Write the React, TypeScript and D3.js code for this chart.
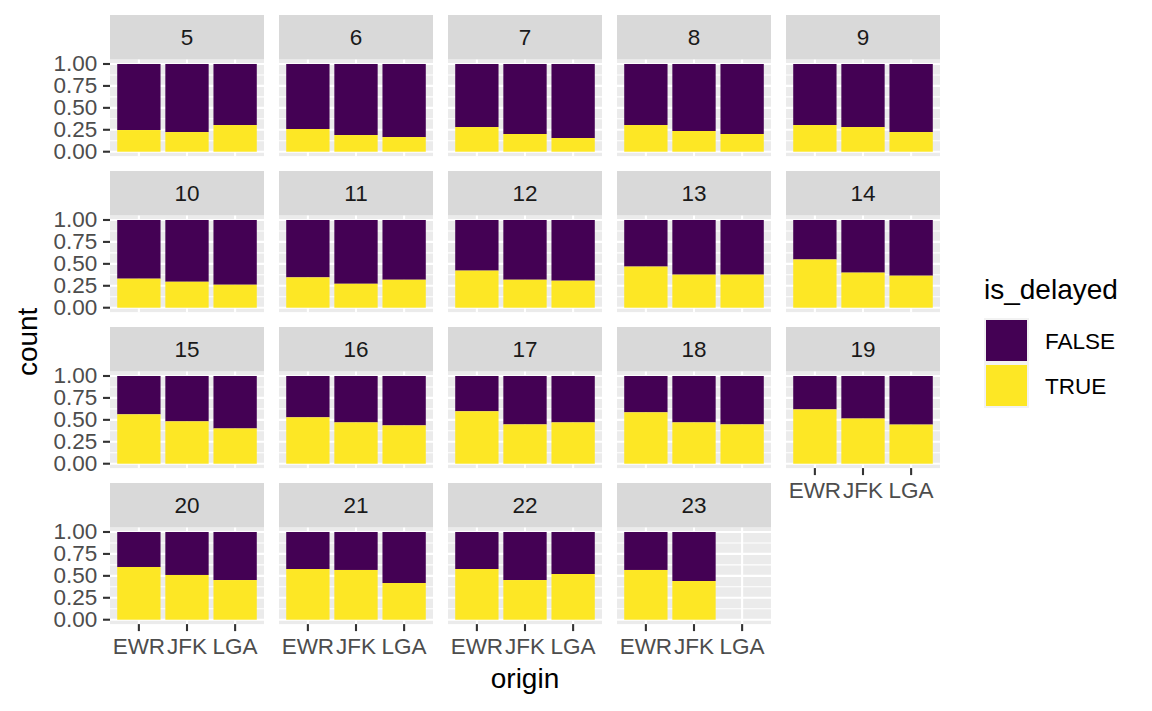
import * as d3 from 'd3';

// hour of departure, one panel each
const hours = [5, 6, 7, 8, 9, 10, 11, 12, 13, 14, 15, 16, 17, 18, 19, 20, 21, 22, 23];
const origins = ['EWR', 'JFK', 'LGA'];

// share of delayed flights (TRUE) per hour
const delayedEWR = [0.247, 0.259, 0.281, 0.304, 0.304, 0.331, 0.346, 0.423, 0.469, 0.55, 0.563, 0.529, 0.598, 0.586, 0.619, 0.601, 0.578, 0.578, 0.567];
const delayedJFK = [0.224, 0.19, 0.202, 0.236, 0.281, 0.296, 0.273, 0.319, 0.377, 0.4, 0.483, 0.471, 0.448, 0.471, 0.515, 0.51, 0.567, 0.452, 0.441];
const delayedLGA = [0.304, 0.167, 0.156, 0.202, 0.224, 0.262, 0.319, 0.308, 0.377, 0.365, 0.402, 0.437, 0.471, 0.448, 0.446, 0.452, 0.418, 0.521, null];

const yTicks = [0, 0.25, 0.5, 0.75, 1];
const yMinor = [0.125, 0.375, 0.625, 0.875];
const delayLevels = ['FALSE', 'TRUE'];
const delayColors = ['#440154', '#FDE725'];

const W = 1152;
const H = 711;
const font = '"Liberation Sans", Arial, Helvetica, sans-serif';
const nCol = 5;
const left = 110;
const top = 15;
const colStep = 169;
const rowStep = 156;
const panelW = 154;
const stripH = 44.6;
const panelH = 96.5;
const tickFont = 22.5;
const titleFont = 28;

const color = d3.scaleOrdinal<string, string>().domain(delayLevels).range(delayColors);

export default function App() {
  const series = [delayedEWR, delayedJFK, delayedLGA];
  const nRows = Math.ceil(hours.length / nCol);
  const lastRowStart = (nRows - 1) * nCol;

  const panels = hours.map((h, i) => {
    const row = Math.floor(i / nCol);
    const col = i % nCol;
    const x0 = left + col * colStep;
    const sy = top + row * rowStep;
    const py = sy + stripH;
    const x = d3.scalePoint<string>().domain(origins).range([x0, x0 + panelW]).padding(0.6);
    const y = d3.scaleLinear().domain([-0.05, 1.05]).range([py + panelH, py]);
    const bw = x.step() * 0.9;
    // x axis drawn under the lowest panel of each column
    const showX = i >= lastRowStart || i + nCol >= hours.length;
    const showY = col === 0;
    return (
      <g key={h}>
        <rect x={x0} y={sy} width={panelW} height={stripH} fill="#D9D9D9" />
        <text x={x0 + panelW / 2} y={sy + stripH / 2} textAnchor="middle" dominantBaseline="central"
          fontSize={tickFont} fill="#1A1A1A">{h}</text>
        <rect x={x0} y={py} width={panelW} height={panelH} fill="#EBEBEB" />
        {yMinor.map((t) => (
          <line key={'m' + t} x1={x0} x2={x0 + panelW} y1={y(t)} y2={y(t)} stroke="#fff" strokeWidth={1.1} />
        ))}
        {yTicks.map((t) => (
          <line key={'M' + t} x1={x0} x2={x0 + panelW} y1={y(t)} y2={y(t)} stroke="#fff" strokeWidth={2.1} />
        ))}
        {origins.map((o) => (
          <line key={'v' + o} x1={x(o)!} x2={x(o)!} y1={py} y2={py + panelH} stroke="#fff" strokeWidth={2.1} />
        ))}
        {origins.map((o, k) => {
          const p = series[k][i];
          if (p === null) return null;
          const cx = x(o)!;
          return (
            <g key={'b' + o}>
              <rect x={cx - bw / 2} y={y(1)} width={bw} height={y(p) - y(1)} fill={color('FALSE')} />
              <rect x={cx - bw / 2} y={y(p)} width={bw} height={y(0) - y(p)} fill={color('TRUE')} />
            </g>
          );
        })}
        {showY && yTicks.map((t) => (
          <g key={'yt' + t}>
            <line x1={x0 - 7} x2={x0} y1={y(t)} y2={y(t)} stroke="#333333" strokeWidth={2.1} />
            <text x={x0 - 12.6} y={y(t)} textAnchor="end" dominantBaseline="central"
              fontSize={tickFont} fill="#4D4D4D">{d3.format('.2f')(t)}</text>
          </g>
        ))}
        {showX && origins.map((o) => (
          <g key={'xt' + o}>
            <line x1={x(o)!} x2={x(o)!} y1={py + panelH} y2={py + panelH + 7} stroke="#333333" strokeWidth={2.1} />
            <text x={x(o)!} y={py + panelH + 29.5} textAnchor="middle" fontSize={tickFont} fill="#4D4D4D">{o}</text>
          </g>
        ))}
      </g>
    );
  });

  const panelsTop = top + stripH;
  const panelsBottom = top + (nRows - 1) * rowStep + stripH + panelH;
  const panelsRight = left + (nCol - 1) * colStep + panelW;

  return (
    <div style={{ position: 'absolute', left: 0, top: 0 }}>
      <svg width={W} height={H} style={{ display: 'block', fontFamily: font }}>
        <rect width={W} height={H} fill="#fff" />
        {panels}
        <text x={(left + panelsRight) / 2} y={688} textAnchor="middle" fontSize={titleFont} fill="#000">origin</text>
        <text transform={`translate(37, ${(panelsTop + panelsBottom) / 2}) rotate(-90)`} textAnchor="middle"
          fontSize={titleFont} fill="#000">count</text>
        <text x={984} y={299} fontSize={titleFont} fill="#000">is_delayed</text>
        {delayLevels.map((lv, i) => (
          <g key={lv} transform={`translate(984, ${318 + i * 45})`}>
            <rect width={45} height={45} fill="#F2F2F2" />
            <rect x={2} y={2} width={41} height={41} fill={color(lv)} />
            <text x={61} y={23} dominantBaseline="central" fontSize={tickFont} fill="#000">{lv}</text>
          </g>
        ))}
      </svg>
    </div>
  );
}
